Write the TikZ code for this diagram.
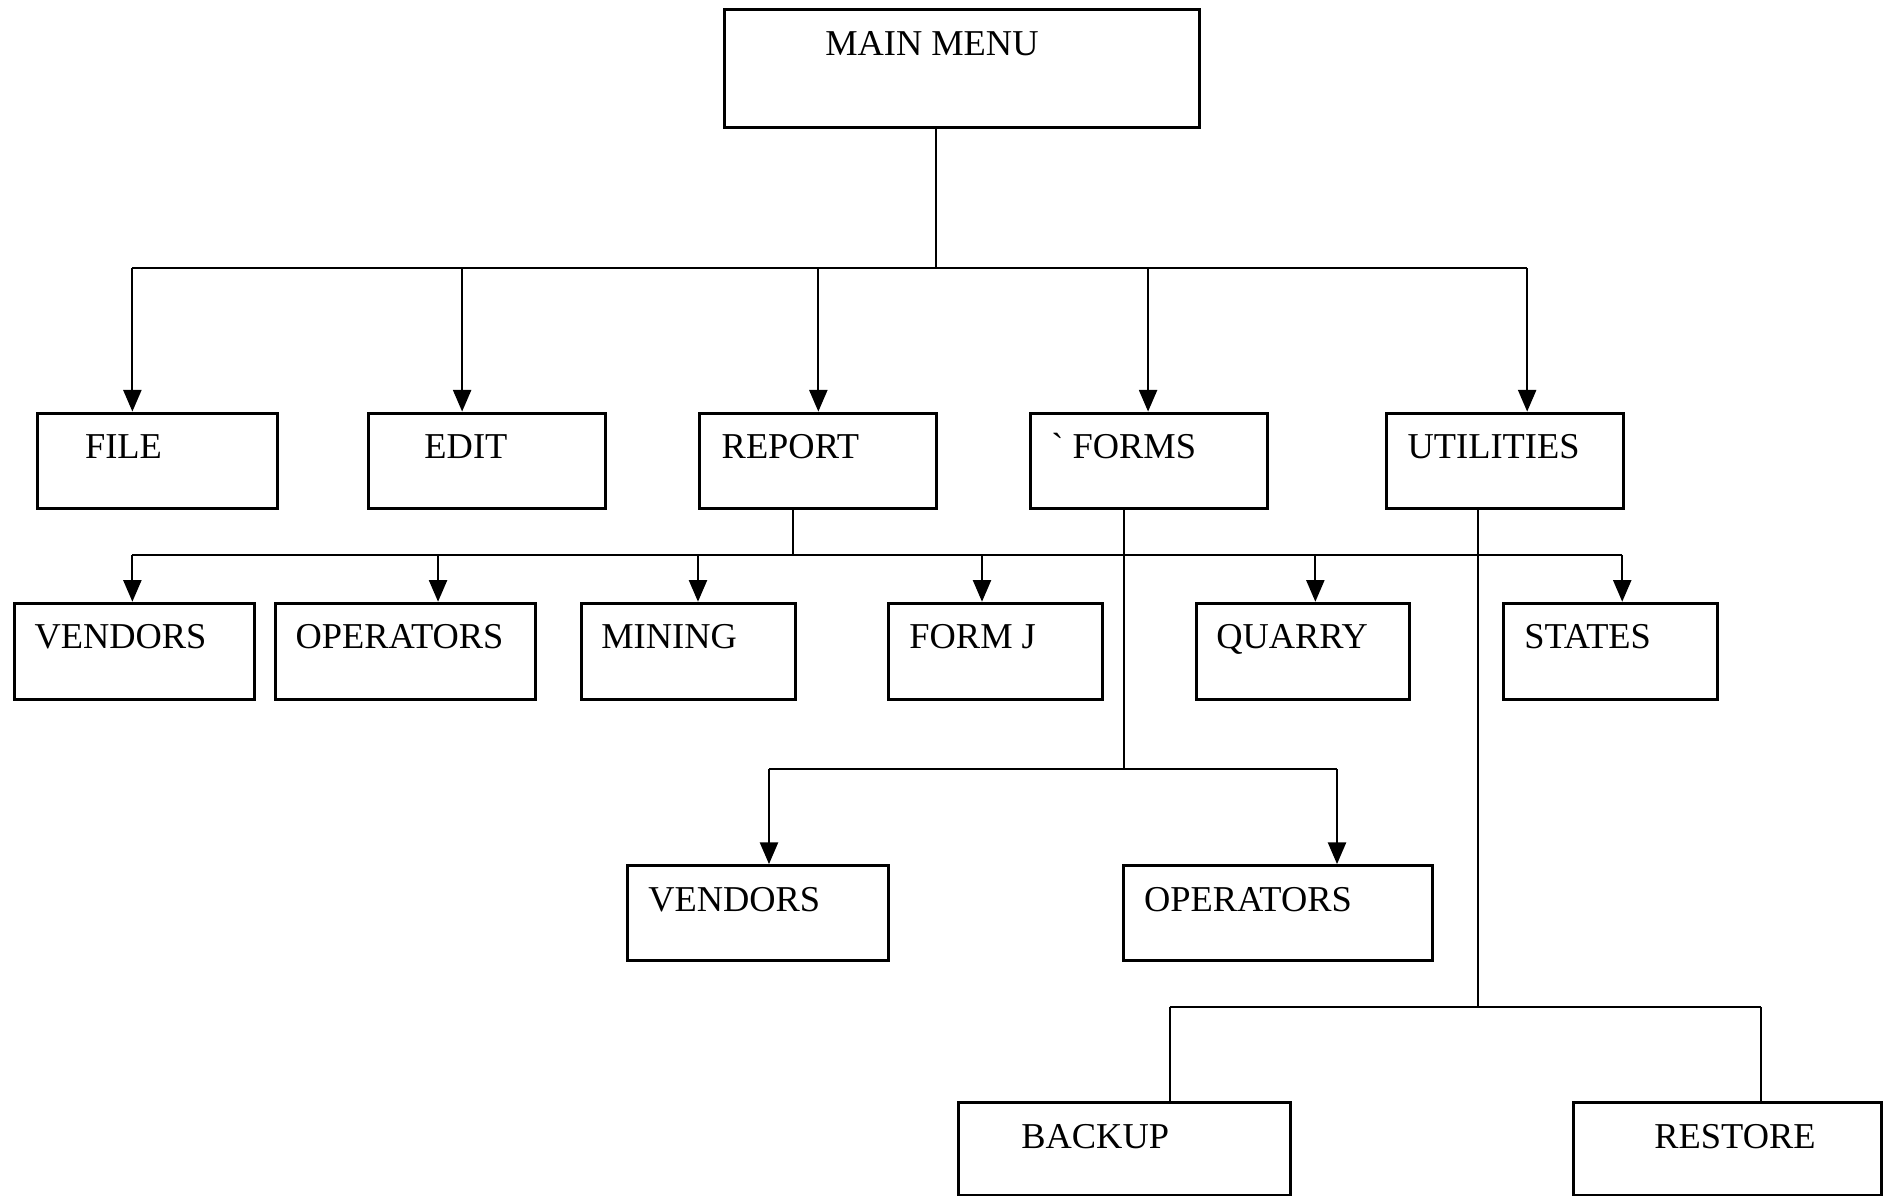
\documentclass[tikz,border=0pt]{standalone}
\usepackage{fontspec}
\setmainfont{Liberation Serif}
\usetikzlibrary{arrows.meta}
\tikzset{
  box/.style={draw, line width=0.7pt, rectangle, inner sep=0pt, anchor=north west},
  lbl/.style={anchor=base west, inner sep=0pt, yshift=-0.39cm, font=\fontsize{8.6pt}{10pt}\selectfont},
  conn/.style={line width=0.5pt},
  arr/.style={conn, -{Triangle[length=0.18cm,width=0.15cm]}}
}
\begin{document}
\begin{tikzpicture}[x=0.01cm, y=-0.01cm]
\useasboundingbox[fill=white] (0,0) rectangle (1568,993);

% boxes
\node[box, minimum width=3.94cm, minimum height=0.98cm, label={[lbl,xshift=0.84cm]north west:MAIN MENU}] (main) at (601,7) {};

\node[box, minimum width=1.99cm, minimum height=0.79cm, label={[lbl,xshift=0.40cm]north west:FILE}] (file) at (30,342) {};
\node[box, minimum width=1.97cm, minimum height=0.79cm, label={[lbl,xshift=0.47cm]north west:EDIT}] (edit) at (305,342) {};
\node[box, minimum width=1.97cm, minimum height=0.79cm, label={[lbl,xshift=0.19cm]north west:REPORT}] (report) at (580,342) {};
\node[box, minimum width=1.97cm, minimum height=0.79cm, label={[lbl,xshift=0.18cm]north west:{\textasciigrave} FORMS}] (forms) at (855,342) {};
\node[box, minimum width=1.97cm, minimum height=0.79cm, label={[lbl,xshift=0.18cm]north west:UTILITIES}] (util) at (1151,342) {};

\node[box, minimum width=1.99cm, minimum height=0.80cm, label={[lbl,xshift=0.17cm]north west:VENDORS}] (vend) at (11,500) {};
\node[box, minimum width=2.16cm, minimum height=0.80cm, label={[lbl,xshift=0.17cm]north west:OPERATORS}] (oper) at (228,500) {};
\node[box, minimum width=1.78cm, minimum height=0.80cm, label={[lbl,xshift=0.17cm]north west:MINING}] (mining) at (482,500) {};
\node[box, minimum width=1.78cm, minimum height=0.80cm, label={[lbl,xshift=0.18cm]north west:FORM J}] (formj) at (737,500) {};
\node[box, minimum width=1.77cm, minimum height=0.80cm, label={[lbl,xshift=0.17cm]north west:QUARRY}] (quarry) at (993,500) {};
\node[box, minimum width=1.78cm, minimum height=0.80cm, label={[lbl,xshift=0.18cm]north west:STATES}] (states) at (1248,500) {};

\node[box, minimum width=2.17cm, minimum height=0.79cm, label={[lbl,xshift=0.18cm]north west:VENDORS}] (vendtwo) at (520,718) {};
\node[box, minimum width=2.57cm, minimum height=0.79cm, label={[lbl,xshift=0.18cm]north west:OPERATORS}] (opertwo) at (932,718) {};

\node[box, minimum width=2.76cm, minimum height=0.77cm, label={[lbl,xshift=0.53cm]north west:BACKUP}] (backup) at (795,915) {};
\node[box, minimum width=2.56cm, minimum height=0.77cm, label={[lbl,xshift=0.68cm]north west:RESTORE}] (restore) at (1306,915) {};

% level 1 connectors
\coordinate (j1) at (778,223);
\coordinate (a1) at (110,223);
\coordinate (a2) at (384,223);
\coordinate (a3) at (680,223);
\coordinate (a4) at (954,223);
\coordinate (a5) at (1269,223);
\draw[conn] (j1 |- main.south) -- (j1);
\draw[conn] (a1) -- (a5);
\draw[arr] (a1) -- (a1 |- file.north);
\draw[arr] (a2) -- (a2 |- edit.north);
\draw[arr] (a3) -- (a3 |- report.north);
\draw[arr] (a4) -- (a4 |- forms.north);
\draw[arr] (a5) -- (a5 |- util.north);

% report connectors
\coordinate (j2) at (659,461);
\coordinate (b1) at (110,461);
\coordinate (b2) at (364,461);
\coordinate (b3) at (580,461);
\coordinate (b4) at (816,461);
\coordinate (b5) at (1093,461);
\coordinate (b6) at (1348,461);
\draw[conn] (j2 |- report.south) -- (j2);
\draw[conn] (b1) -- (b6);
\draw[arr] (b1) -- (b1 |- vend.north);
\draw[arr] (b2) -- (b2 |- oper.north);
\draw[arr] (b3) -- (b3 |- mining.north);
\draw[arr] (b4) -- (b4 |- formj.north);
\draw[arr] (b5) -- (b5 |- quarry.north);
\draw[arr] (b6) -- (b6 |- states.north);

% forms connectors
\coordinate (j3) at (934,639);
\coordinate (c1) at (639,639);
\coordinate (c2) at (1111,639);
\draw[conn] (j3 |- forms.south) -- (j3);
\draw[conn] (c1) -- (c2);
\draw[arr] (c1) -- (c1 |- vendtwo.north);
\draw[arr] (c2) -- (c2 |- opertwo.north);

% utilities connectors
\coordinate (j4) at (1228,837);
\coordinate (d1) at (972,837);
\coordinate (d2) at (1463,837);
\draw[conn] (j4 |- util.south) -- (j4);
\draw[conn] (d1) -- (d2);
\draw[conn] (d1) -- (d1 |- backup.north);
\draw[conn] (d2) -- (d2 |- restore.north);
\end{tikzpicture}
\end{document}
